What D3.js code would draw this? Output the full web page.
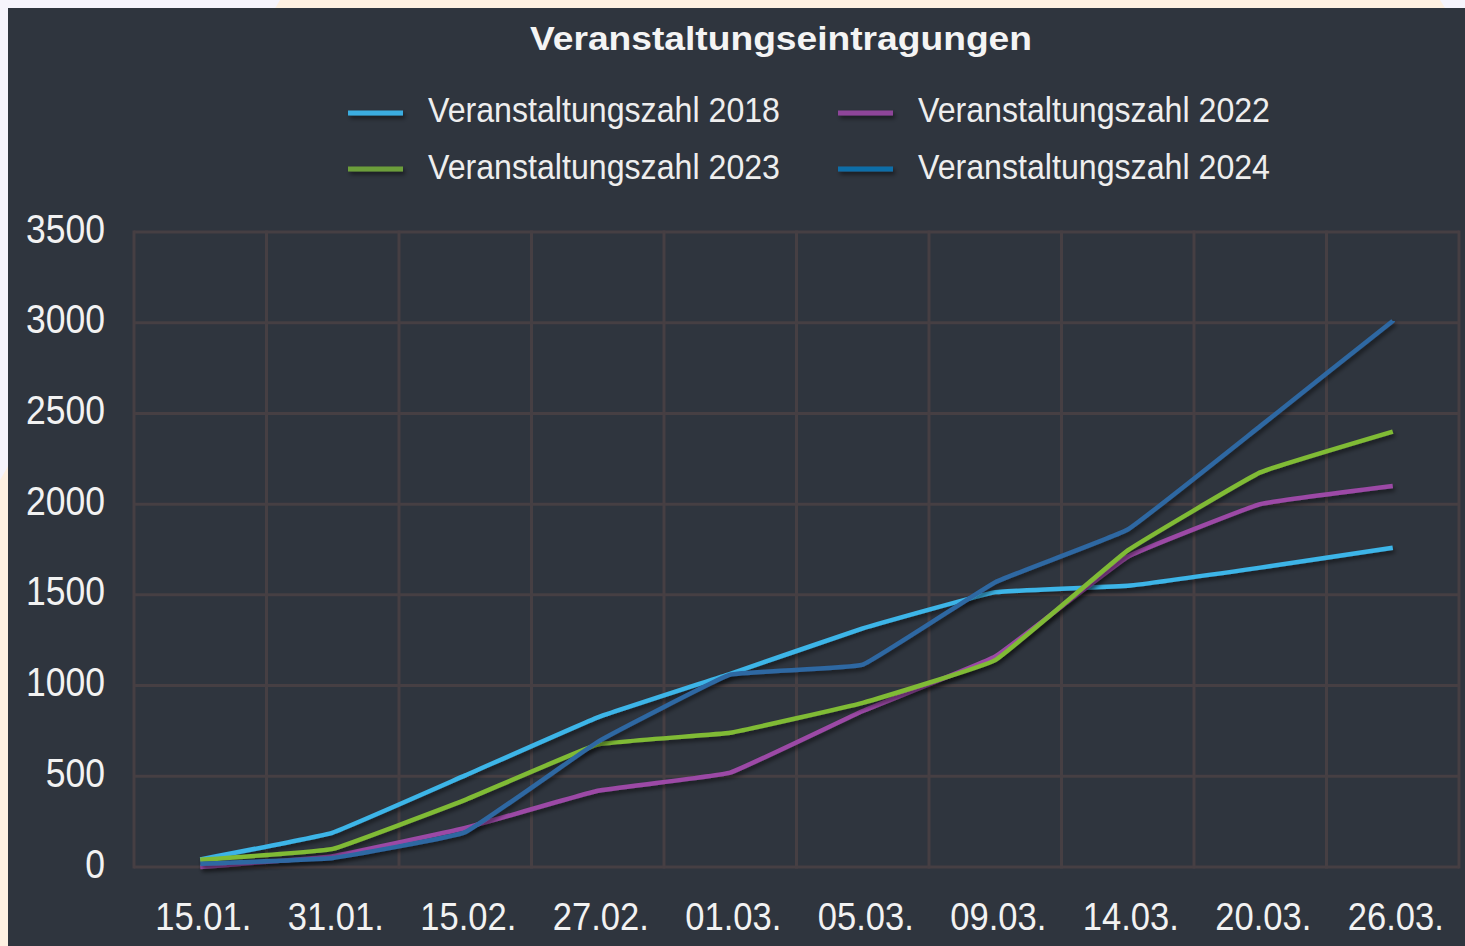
<!DOCTYPE html>
<html>
<head>
<meta charset="utf-8">
<script src="https://cdn.jsdelivr.net/npm/d3@7"></script>
<style>
  html, body { margin: 0; padding: 0; background: #f6f4fc; }
  svg { display: block; }
</style>
</head>
<body>
<svg id="chart" width="1465" height="946"></svg>
<script>
const dates = ["15.01.","31.01.","15.02.","27.02.","01.03.","05.03.","09.03.","14.03.","20.03.","26.03."];
const v2018 = [42, 190, 505, 825, 1065, 1315, 1515, 1550, 1650, 1760];
const v2022 = [0, 60, 215, 420, 520, 860, 1160, 1710, 2000, 2100];
const v2023 = [40, 100, 370, 675, 740, 905, 1140, 1745, 2175, 2400];
const v2024 = [18, 50, 192, 690, 1060, 1115, 1570, 1860, 2430, 3010];
const seriesNames = ["Veranstaltungszahl 2018","Veranstaltungszahl 2022","Veranstaltungszahl 2023","Veranstaltungszahl 2024"];
const yTicks = [0, 500, 1000, 1500, 2000, 2500, 3000, 3500];
const title = "Veranstaltungseintragungen";

(function () {
const series = [
  {name: seriesNames[0], values: v2018, color: "#3cb5e8", legend: "#3aade0"},
  {name: seriesNames[1], values: v2022, color: "#9c4aa6", legend: "#8e4499"},
  {name: seriesNames[2], values: v2023, color: "#80bb36", legend: "#6c9e3a"},
  {name: seriesNames[3], values: v2024, color: "#2e67a2", legend: "#106ea8"}
];

const svg = d3.select("#chart");
const W = 1465, H = 946;
const FONT = "'Liberation Sans', Arial, sans-serif";

svg.append("rect").attr("x",0).attr("y",0).attr("width",W).attr("height",H).attr("fill","#f6f4fc");
svg.append("polygon").attr("points","280,0 1440,0 1465,40 1465,946 0,946 0,480").attr("fill","#fef0e1");
svg.append("rect").attr("x",8).attr("y",8).attr("width",W-8).attr("height",H-8).attr("fill","#2f353e");

const defs = svg.append("defs");
const f = defs.append("filter").attr("id","shadow")
  .attr("filterUnits","userSpaceOnUse")
  .attr("x",0).attr("y",0).attr("width",W).attr("height",H);
f.append("feDropShadow").attr("dx",2).attr("dy",3).attr("stdDeviation",2).attr("flood-color","#000").attr("flood-opacity",0.5);

const pLeft = 134, pRight = 1459, pTop = 232, pBottom = 867;
const x = d3.scaleBand().domain(dates).range([pLeft, pRight]).padding(0);
const y = d3.scaleLinear().domain([0, 3500]).range([pBottom, pTop]);

const gridColor = "#463f43";

svg.append("g").selectAll("line").data(yTicks).join("line")
  .attr("x1", pLeft).attr("x2", pRight)
  .attr("y1", d => y(d)).attr("y2", d => y(d))
  .attr("stroke", gridColor).attr("stroke-width", 3);

const bounds = dates.map(d => x(d)).concat([x(dates[dates.length-1]) + x.bandwidth()]);
svg.append("g").selectAll("line").data(bounds).join("line")
  .attr("x1", d => d).attr("x2", d => d)
  .attr("y1", pTop - 1.5).attr("y2", pBottom + 1.5)
  .attr("stroke", gridColor).attr("stroke-width", 3);

function tl(s) {
  let w = 0;
  for (const c of s) w += (c === ".") ? 8.5 : 19.75;
  return w;
}

svg.append("g").selectAll("text").data(yTicks).join("text")
  .attr("x", 105).attr("y", d => y(d) + 10.5)
  .attr("text-anchor", "end")
  .attr("font-family", FONT).attr("font-size", 41)
  .attr("fill", "#f2f2f2")
  .attr("textLength", d => tl(String(d))).attr("lengthAdjust", "spacingAndGlyphs")
  .text(d => d);

svg.append("g").selectAll("text").data(dates).join("text")
  .attr("x", d => x(d) + x.bandwidth()/2 + 3).attr("y", 930)
  .attr("text-anchor", "middle")
  .attr("font-family", FONT).attr("font-size", 39)
  .attr("fill", "#f2f2f2")
  .attr("textLength", d => tl(d)).attr("lengthAdjust", "spacingAndGlyphs")
  .text(d => d);

const line = d3.line()
  .x((d, i) => x(dates[i]) + x.bandwidth()/2)
  .y(d => y(d))
  .curve(d3.curveCardinal.tension(0.75));

svg.append("g").selectAll("path").data(series).join("path")
  .attr("d", s => line(s.values))
  .attr("fill", "none")
  .attr("stroke", s => s.color)
  .attr("stroke-width", 4.5)
  .attr("stroke-linejoin", "round")
  .attr("filter", "url(#shadow)");

svg.append("text")
  .attr("x", 781).attr("y", 50)
  .attr("text-anchor", "middle")
  .attr("font-family", FONT).attr("font-size", 34).attr("font-weight", "bold")
  .attr("fill", "#f4f4f4")
  .attr("textLength", 502).attr("lengthAdjust", "spacingAndGlyphs")
  .text(title);

const legendPos = [
  {lx: 348, tx: 428, ly: 113, ty: 122},
  {lx: 838, tx: 918, ly: 113, ty: 122},
  {lx: 348, tx: 428, ly: 169, ty: 179},
  {lx: 838, tx: 918, ly: 169, ty: 179}
];
const lg = svg.append("g");
series.forEach((s, i) => {
  const p = legendPos[i];
  lg.append("rect")
    .attr("x", p.lx).attr("y", p.ly - 2.5)
    .attr("width", 55).attr("height", 5)
    .attr("fill", s.legend)
    .attr("filter", "url(#shadow)");
  lg.append("text")
    .attr("x", p.tx).attr("y", p.ty)
    .attr("font-family", FONT).attr("font-size", 35)
    .attr("fill", "#eeeeee")
    .attr("textLength", 352).attr("lengthAdjust", "spacingAndGlyphs")
    .text(s.name);
});
})();
</script>
</body>
</html>
